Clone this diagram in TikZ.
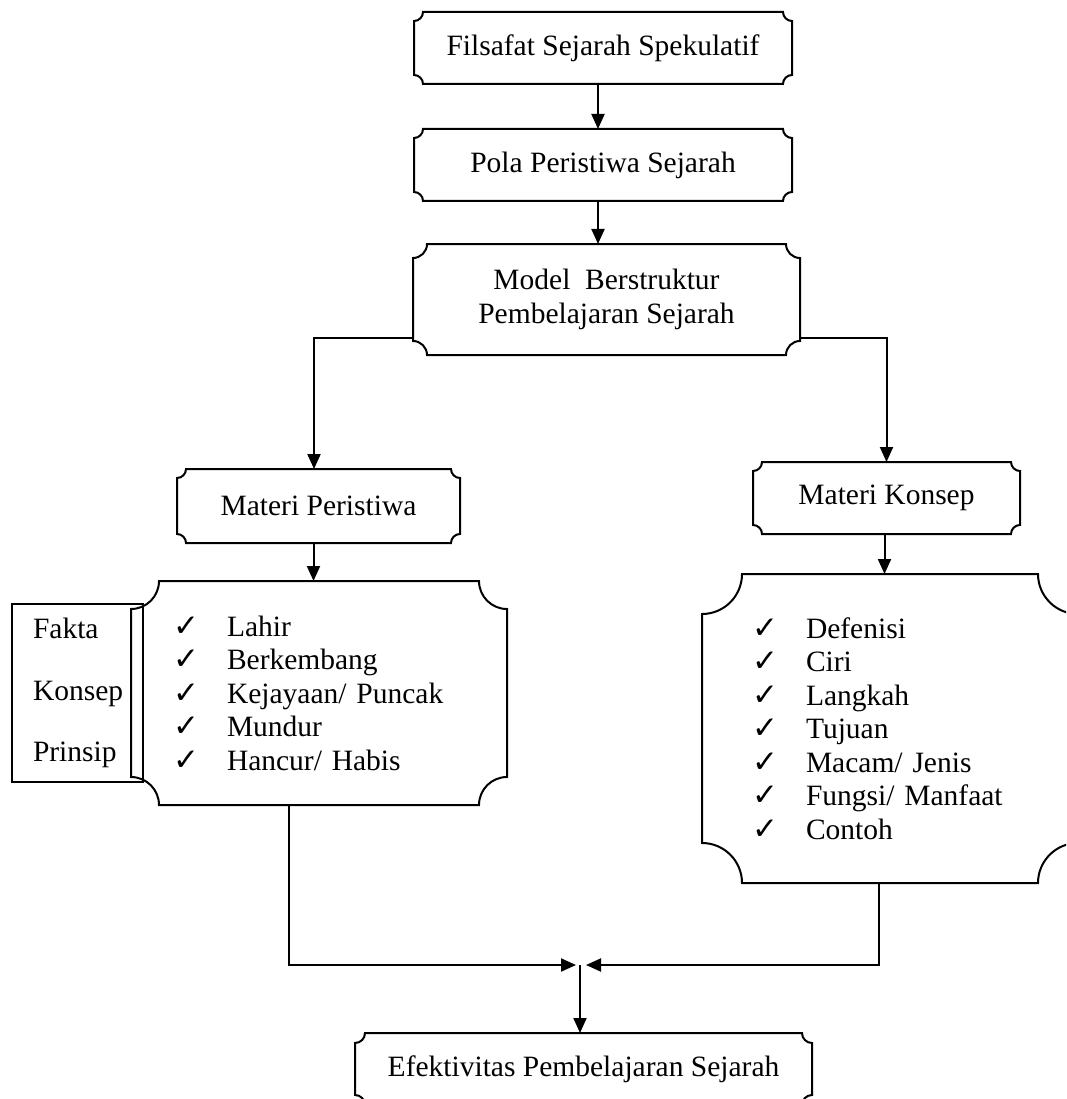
\documentclass[tikz,border=0pt]{standalone}
\usepackage{fontspec}
\setmainfont{Liberation Serif}
\newfontfamily\cekfont{DejaVu Sans}
\usetikzlibrary{arrows.meta,positioning}
% check mark item for the two lists
\newcommand{\cek}[1]{\makebox[54pt][l]{\cekfont\fontsize{31}{33.5}\selectfont ✓}#1}
% plaque outline round a named node: #1 node, #2 corner radius
\newcommand{\plaque}[2]{%
  \draw ([xshift=#2]#1.north west) -- ([xshift=-#2]#1.north east)
    arc[start angle=180, end angle=270, radius=#2]
    -- ([yshift=#2]#1.south east)
    arc[start angle=90, end angle=180, radius=#2]
    -- ([xshift=#2]#1.south west)
    arc[start angle=0, end angle=90, radius=#2]
    -- ([yshift=-#2]#1.north west)
    arc[start angle=270, end angle=360, radius=#2] -- cycle;}

\begin{document}
\begin{tikzpicture}[
        x=1pt, y=-1pt,
        line width=2pt,
        font=\fontsize{29.5}{33.5}\selectfont,
        box/.style={align=center, inner sep=0pt, minimum width=376pt, minimum height=70pt},
        list/.style={align=left, inner ysep=0pt, minimum height=#1},
        arr/.style={-{Triangle[length=15pt, width=13pt]}}
    ]
        \path[use as bounding box, clip] (0,0) rectangle (1066,1099);

        \node[box] (filsafat) at (603,48) {Filsafat Sejarah Spekulatif};
        \node[box, below=45pt of filsafat] (pola) {Pola Peristiwa Sejarah};
        \node[box, below=43pt of pola, xshift=3.5pt, minimum width=385pt, minimum height=109pt] (model) {Model\ \ Berstruktur\\Pembelajaran Sejarah};

        \node[box, minimum width=281pt, minimum height=72pt] (peristiwa) at (318.5,506) {Materi Peristiwa};
        \node[box, minimum width=265pt] (konsep) at (886.5,498) {Materi Konsep};

        \node[list=222pt, text width=292pt, inner xsep=41pt] (peristiwaList) at (319,693)
            {\cek{Lahir}\\\cek{Berkembang}\\\cek{Kejayaan/ Puncak}\\\cek{Mundur}\\\cek{Hancur/ Habis}};
        \node[draw, list=178pt, text width=89pt, inner xsep=21pt] (fakta) at (77.5,693)
            {Fakta\\[28pt]Konsep\\[28pt]Prinsip};
        \node[list=307pt, text width=276pt, inner xsep=49pt] (konsepList) at (890,728.5)
            {\cek{Defenisi}\\\cek{Ciri}\\\cek{Langkah}\\\cek{Tujuan}\\\cek{Macam/ Jenis}\\\cek{Fungsi/ Manfaat}\\\cek{Contoh}};

        \node[box, minimum width=455pt] (efektivitas) at (583.5,1069) {Efektivitas Pembelajaran Sejarah};

        \foreach \n/\r in {filsafat/9pt, pola/9pt, model/14pt, peristiwa/9pt, konsep/9pt,
                           peristiwaList/28pt, konsepList/40pt, efektivitas/10pt}
            \plaque{\n}{\r};

        \draw[arr] ([xshift=-5pt]filsafat.south) -- ([xshift=-5pt]pola.north);
        \draw[arr] ([xshift=-5pt]pola.south) -- ([xshift=-5pt]pola.south |- model.north);
        \draw[arr] ([yshift=17pt]model.south west) -| ([xshift=-4.5pt]peristiwa.north);
        \draw[arr] ([yshift=17pt]model.south east) -| (konsep.north);
        \draw[arr] ([xshift=-5pt]peristiwa.south) -- ([xshift=-5pt]peristiwa.south |- peristiwaList.north);
        \draw[arr] ([xshift=-2pt]konsep.south) -- ([xshift=-2pt]konsep.south |- konsepList.north);

        \coordinate (gabung) at (580,965);
        \draw[arr] ([xshift=-30pt]peristiwaList.south) |- ([xshift=-4pt]gabung);
        \draw[arr] ([xshift=-11pt]konsepList.south) |- ([xshift=6pt]gabung);
        \draw[arr] (gabung) -- (gabung |- efektivitas.north);
    \end{tikzpicture}
\end{document}
